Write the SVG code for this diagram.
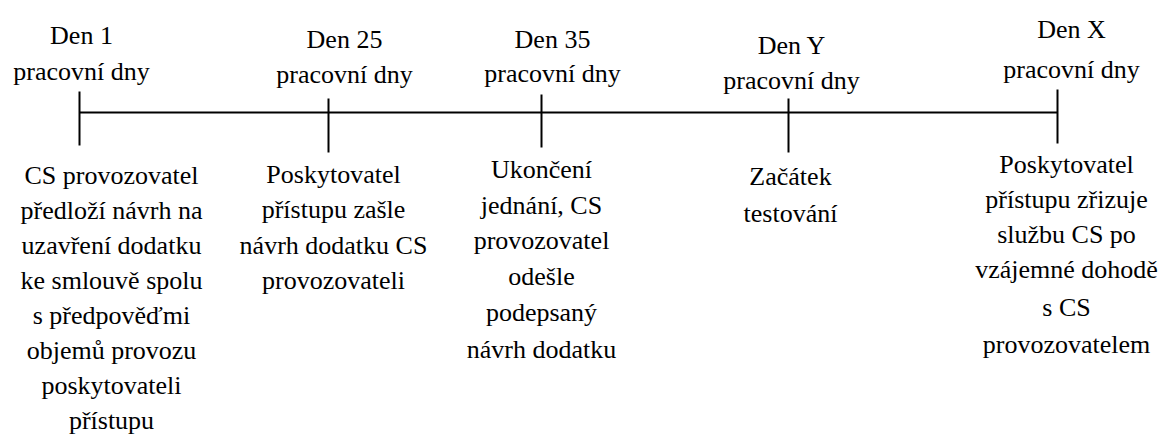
<svg xmlns="http://www.w3.org/2000/svg" width="1164" height="436" viewBox="0 0 1164 436">
<style>
.t{font-family:'Liberation Serif','Times New Roman',serif;font-size:26px;fill:#000;text-anchor:middle}
.c{stroke:#000;stroke-width:2}
</style>
<rect width="1164" height="436" fill="#fff"/>
<g id="connectors" class="c">
<line x1="79.5" y1="112.5" x2="1057.5" y2="112.5"/>
<line x1="79.5" y1="91.5" x2="79.5" y2="145.5"/>
<line x1="328.5" y1="98.5" x2="328.5" y2="152.5"/>
<line x1="541.5" y1="94.5" x2="541.5" y2="147.5"/>
<line x1="788.5" y1="98.5" x2="788.5" y2="152.5"/>
<line x1="1057.5" y1="89.5" x2="1057.5" y2="143.5"/>
</g>
<g id="day1" class="t">
<text x="81.5" y="43.5">Den 1</text>
<text x="81.5" y="79.5">pracovní dny</text>
</g>
<g id="day25" class="t">
<text x="344.5" y="47.5">Den 25</text>
<text x="344.5" y="82.5">pracovní dny</text>
</g>
<g id="day35" class="t">
<text x="552.5" y="47.5">Den 35</text>
<text x="552.5" y="81.5">pracovní dny</text>
</g>
<g id="dayY" class="t">
<text x="791.5" y="53.5">Den Y</text>
<text x="791.5" y="88.5">pracovní dny</text>
</g>
<g id="dayX" class="t">
<text x="1071.5" y="37.5">Den X</text>
<text x="1071.5" y="77.5">pracovní dny</text>
</g>
<g id="event1" class="t">
<text x="111.5" y="183.5">CS provozovatel</text>
<text x="111.5" y="218.5">předloží návrh na</text>
<text x="111.5" y="253.5">uzavření dodatku</text>
<text x="111.5" y="288.5">ke smlouvě spolu</text>
<text x="111.5" y="323.5">s předpověďmi</text>
<text x="111.5" y="358.5">objemů provozu</text>
<text x="111.5" y="393.5">poskytovateli</text>
<text x="111.5" y="428.5">přístupu</text>
</g>
<g id="event25" class="t">
<text x="333.5" y="182.5">Poskytovatel</text>
<text x="333.5" y="217.5">přístupu zašle</text>
<text x="333.5" y="253.5">návrh dodatku CS</text>
<text x="333.5" y="288.5">provozovateli</text>
</g>
<g id="event35" class="t">
<text x="541.5" y="177.5">Ukončení</text>
<text x="541.5" y="213.5">jednání, CS</text>
<text x="541.5" y="248.5">provozovatel</text>
<text x="541.5" y="284.5">odešle</text>
<text x="541.5" y="320.5">podepsaný</text>
<text x="541.5" y="357.5">návrh dodatku</text>
</g>
<g id="eventY" class="t">
<text x="790.5" y="184.5">Začátek</text>
<text x="790.5" y="221.5">testování</text>
</g>
<g id="eventX" class="t">
<text x="1066.5" y="172.5">Poskytovatel</text>
<text x="1066.5" y="207.5">přístupu zřizuje</text>
<text x="1066.5" y="242.5">službu CS po</text>
<text x="1066.5" y="277.5">vzájemné dohodě</text>
<text x="1066.5" y="315.5">s CS</text>
<text x="1066.5" y="352.5">provozovatelem</text>
</g>
</svg>
